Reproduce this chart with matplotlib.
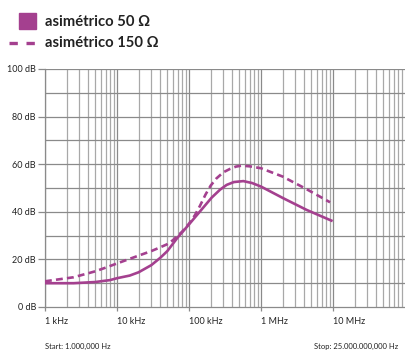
#!/usr/bin/env python3
"""
Frequency response, asymmetric 50 / 150 ohm
"""

import matplotlib
matplotlib.use("Agg")
import matplotlib.pyplot as plt
from matplotlib.lines import Line2D
from matplotlib.patches import Rectangle
from matplotlib.ticker import FixedLocator, NullFormatter

# --- data (Hz, dB) ---
freq_50 = [1e3, 2.5e3, 5e3, 8e3, 1e4, 1.5e4, 2e4, 3e4, 4e4, 5e4, 7e4, 1e5,
           1.5e5, 2.07e5, 2.7e5, 3.33e5, 4.2e5, 5.68e5, 7.5e5, 1e6, 2.04e6, 4.3e6, 9.5e6]
db_50 = [10.0, 10.0, 10.5, 11.3, 12.1, 13.2, 14.6, 17.6, 20.7, 23.5, 29.3, 34.7,
         41.0, 46.0, 49.3, 51.3, 52.5, 52.9, 52.1, 50.6, 45.7, 40.8, 36.3]

freq_150 = [1e3, 2.5e3, 5e3, 7.2e3, 1e4, 2e4, 3e4, 4e4, 5e4, 6e4, 7e4, 8e4, 1e5,
            1.21e5, 1.42e5, 1.7e5, 2e5, 2.4e5, 3e5, 3.7e5, 4.5e5, 5.4e5, 7e5, 1e6,
            2e6, 4.3e6, 9.1e6]
db_150 = [10.8, 12.5, 15.0, 16.7, 18.3, 21.6, 23.5, 25.1, 26.4, 28.1, 30.0, 31.6, 35.0,
          38.6, 42.5, 47.3, 51.0, 54.0, 56.6, 58.0, 59.0, 59.4, 59.1, 58.3,
          54.8, 49.5, 44.0]

y_ticks = [0, 20, 40, 60, 80, 100]
y_labels = ["0 dB", "20 dB", "40 dB", "60 dB", "80 dB", "100 dB"]
x_ticks = [1e3, 1e4, 1e5, 1e6, 1e7]
x_labels = ["1 kHz", "10 kHz", "100 kHz", "1 MHz", "10 MHz"]
series_names = ["asimétrico 50 Ω", "asimétrico 150 Ω"]

COLOR = "#a4408f"
GRID_MAJOR = "#8a8a8a"
GRID_MINOR = "#a8a8a8"

W, H = 405, 351
fig = plt.figure(figsize=(W / 100, H / 100), dpi=100)
plt.rcParams["font.family"] = ["Lato", "DejaVu Sans"]

# axes in pixel coordinates
left, right, top, bottom = 45, 405, 69, 307
ax = fig.add_axes([left / W, (H - bottom) / H, (right - left) / W, (bottom - top) / H])

ax.set_xscale("log")
ax.set_xlim(1e3, 1e8)
ax.set_ylim(0, 100)

# grid
minor = [m * 10 ** e for e in range(3, 8) for m in range(2, 10)]
for x in minor:
    ax.axvline(x, color=GRID_MINOR, lw=0.9, zorder=1)
for x in x_ticks:
    ax.axvline(x, color=GRID_MAJOR, lw=0.9, zorder=1)
for y in range(10, 101, 10):
    ax.axhline(y, color=GRID_MAJOR, lw=0.9, zorder=1)

for s in ["top", "right"]:
    ax.spines[s].set_visible(False)
for s in ["left", "bottom"]:
    ax.spines[s].set_color(GRID_MAJOR)
    ax.spines[s].set_linewidth(0.9)

ax.yaxis.set_major_locator(FixedLocator(y_ticks))
ax.set_yticklabels(y_labels)
ax.xaxis.set_major_locator(FixedLocator(x_ticks))
ax.xaxis.set_minor_locator(FixedLocator([]))
ax.xaxis.set_minor_formatter(NullFormatter())
ax.set_xticklabels(x_labels)
for lbl in ax.get_xticklabels():
    lbl.set_horizontalalignment("left")

ax.tick_params(axis="y", length=5, width=0.9, color=GRID_MAJOR, labelsize=6.5,
               pad=1.5, labelcolor="#222222")
ax.tick_params(axis="x", length=3, width=0.9, color=GRID_MAJOR, labelsize=6.5,
               pad=4, labelcolor="#222222")

# curves
ax.plot(freq_50, db_50, color=COLOR, lw=1.9, solid_joinstyle="round", zorder=3)
ax.plot(freq_150, db_150, color=COLOR, lw=1.9, linestyle=(0, (2.6, 1.6)), zorder=3)

# legend drawn by hand
def fx(px):
    return px / W

def fy(py):
    return 1 - py / H

fig.add_artist(Rectangle((fx(19), fy(29)), fx(17), 16 / H, color=COLOR,
                         transform=fig.transFigure))
fig.add_artist(Line2D([fx(9), fx(35)], [fy(43), fy(43)], color=COLOR, lw=2.4,
                      linestyle=(0, (2.5, 2.6)), transform=fig.transFigure))
fig.text(fx(45), fy(22), series_names[0], fontsize=10.6, fontweight="bold",
         va="center", ha="left", color="#222222")
fig.text(fx(45), fy(43), series_names[1], fontsize=10.6, fontweight="bold",
         va="center", ha="left", color="#222222")

# footer
fig.text(fx(45), fy(346), "Start: 1.000,000 Hz", fontsize=5.5, va="center",
         ha="left", color="#222222")
fig.text(fx(398), fy(346), "Stop: 25.000.000,000 Hz", fontsize=5.5, va="center",
         ha="right", color="#222222")

fig.savefig("out.png", dpi=100)
